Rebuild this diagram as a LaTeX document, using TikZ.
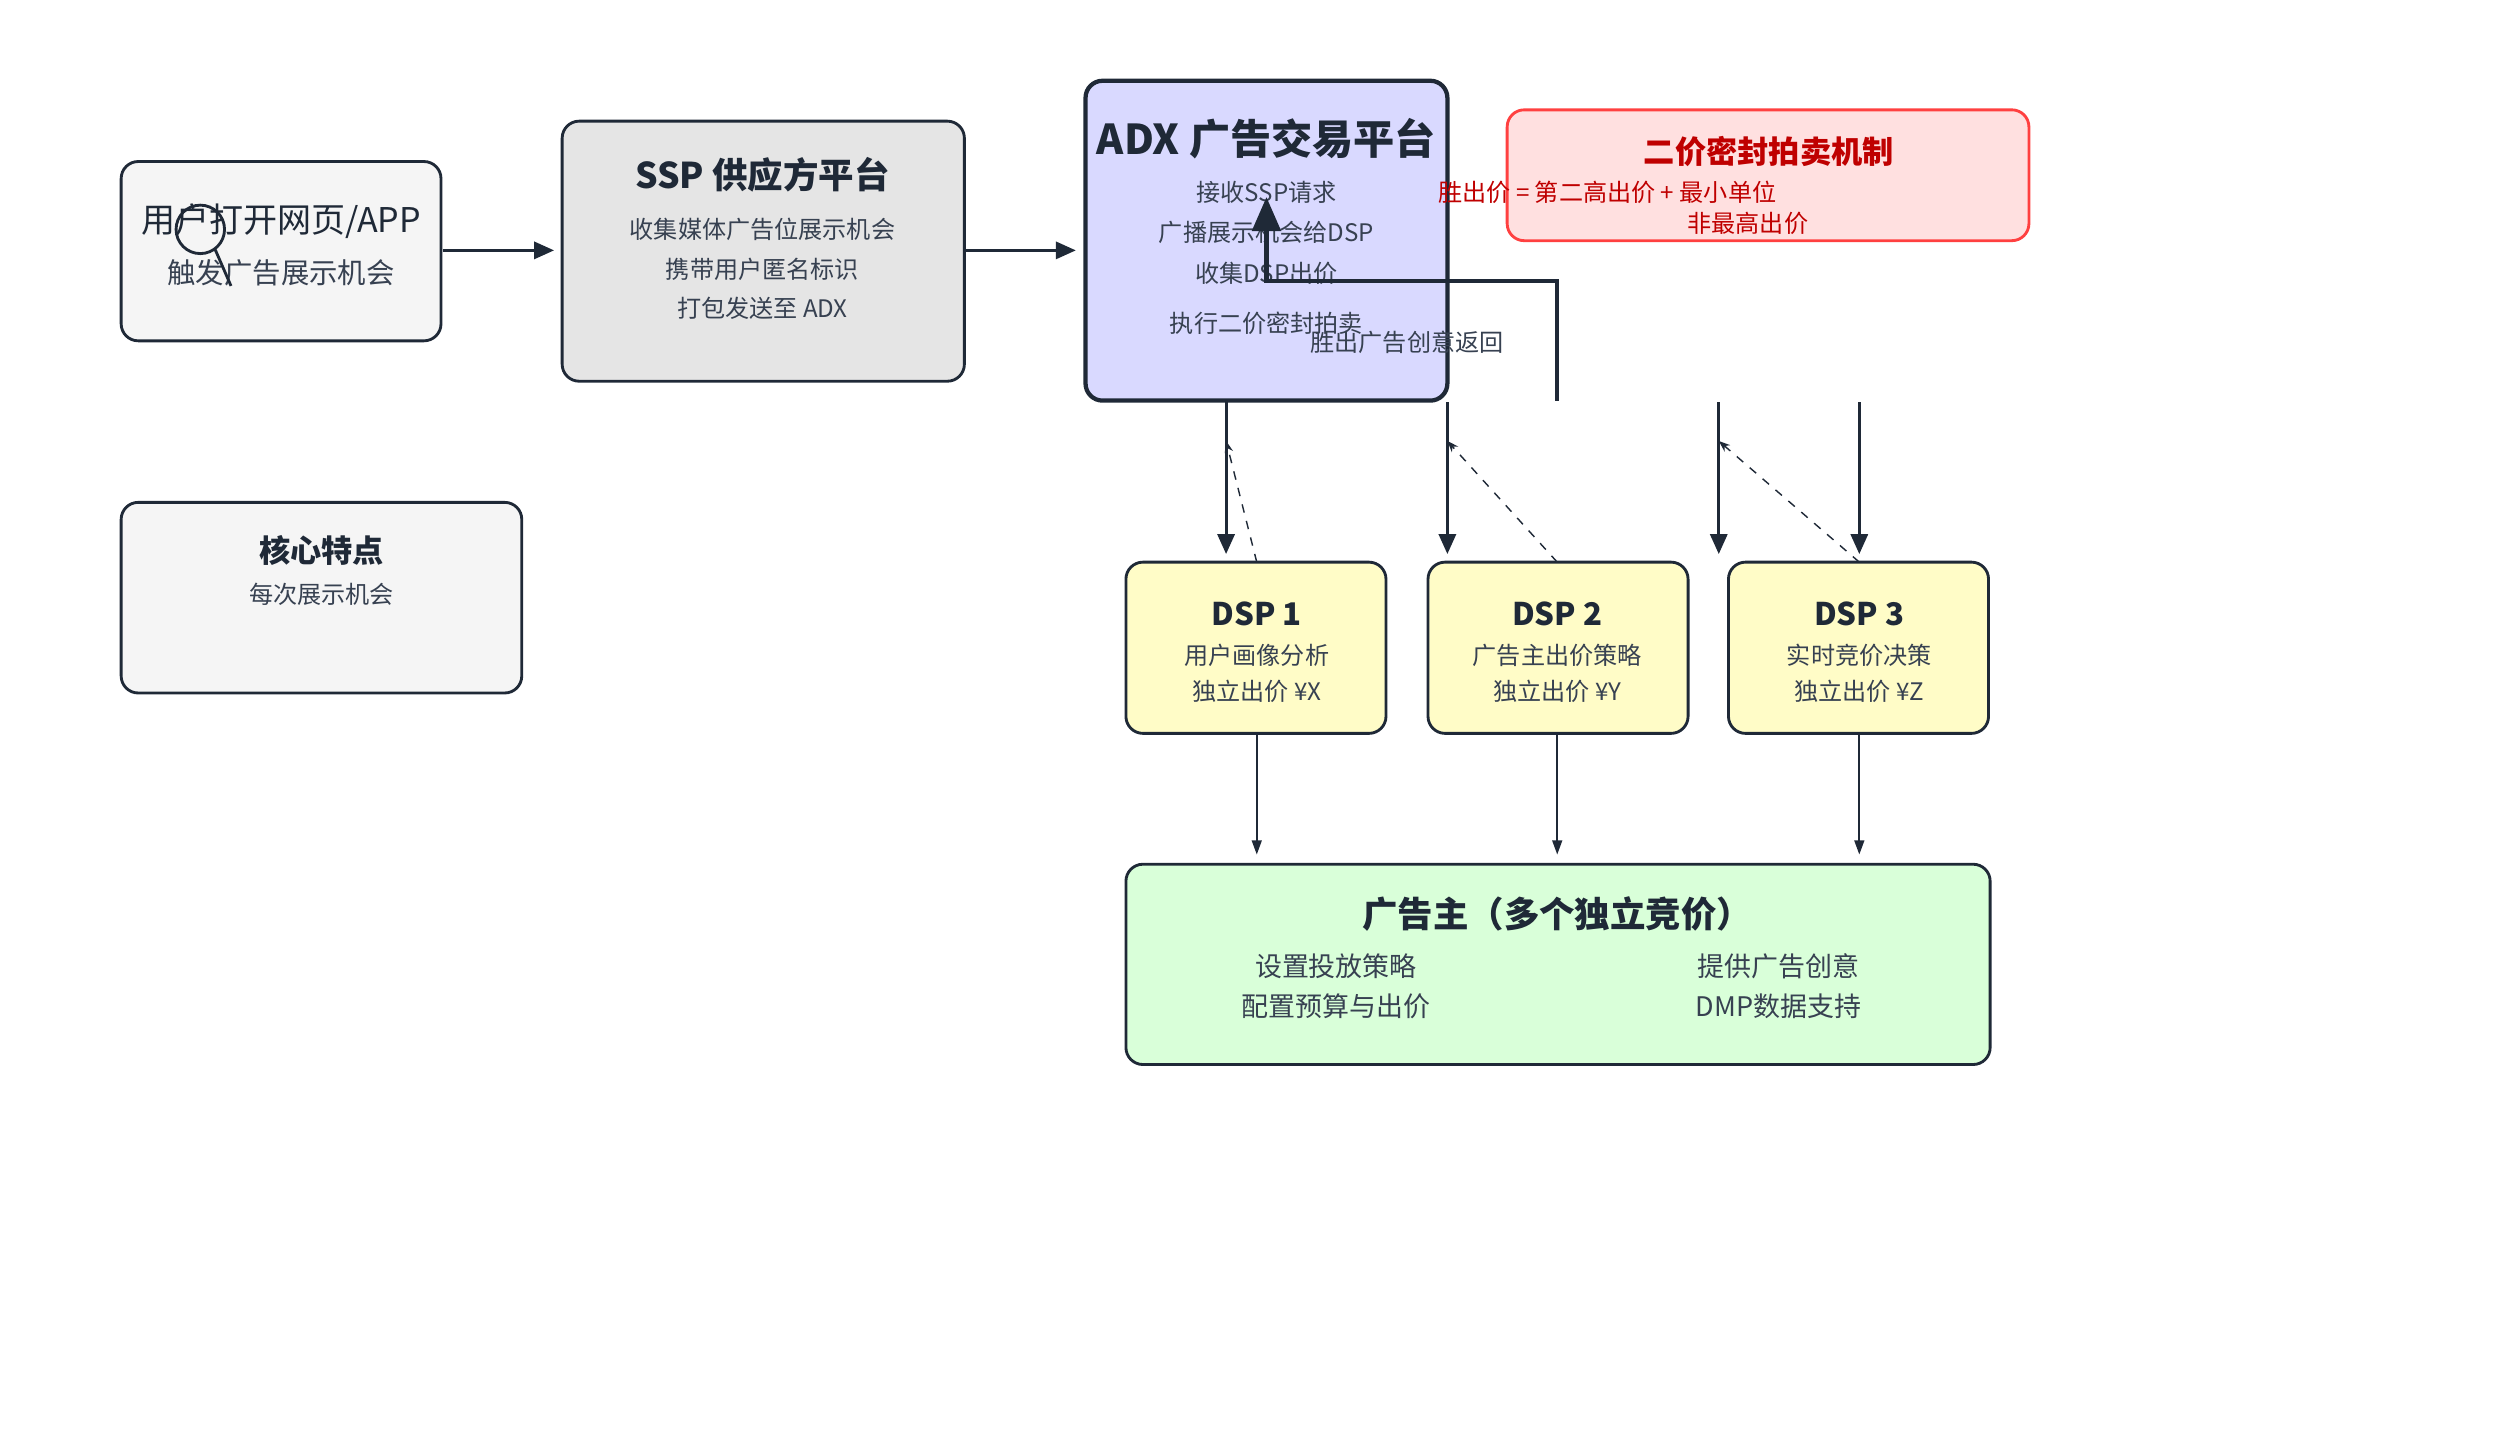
\documentclass[tikz,border=0pt]{standalone}
\usepackage{fontspec}
\setmainfont{Noto Sans CJK SC}
\usetikzlibrary{arrows.meta,positioning,calc}
\definecolor{ink}{HTML}{1F2937}
\definecolor{txt}{HTML}{374151}
\tikzset{
  box/.style={draw=ink, line width=1pt, rounded corners=6pt},
  ttl/.style={font=\bfseries\fontsize{11}{12}\selectfont, text=ink},
  ln/.style={font=\fontsize{8.5}{10}\selectfont, text=txt},
  flow/.style={-{Triangle[length=7pt,width=6pt]}, line width=1pt, draw=ink},
  thin/.style={-{Triangle[length=5pt,width=3.5pt]}, line width=0.6pt, draw=ink},
  back/.style={-{Stealth[length=4pt]}, dashed, line width=0.5pt, draw=ink}
}
\begin{document}
\begin{tikzpicture}[x=0.02cm,y=-0.02cm]
\useasboundingbox (0,0) rectangle (1560,891);
% boxes
\draw[box, fill=gray!8] (75,100) rectangle (273,211);
\draw[box, fill=gray!20] (348,75) rectangle (597,236);
\draw[box, fill=blue!15, line width=1.5pt] (672,50) rectangle (896,248);
\draw[box, fill=red!12, draw=red!75] (933,68) rectangle (1256,149);
\draw[box, fill=gray!8] (75,311) rectangle (323,429);
\foreach \n/\x in {1/697,2/884,3/1070}
  \draw[box, fill=yellow!22] (\x,348) rectangle (\x+161,454);
\draw[box, fill=green!15] (697,535) rectangle (1232,659);
% texts
\node[font=\fontsize{12}{13}\selectfont, text=ink] (user) at (174,137) {用户打开网页/APP};
\node[ln, font=\fontsize{10}{11}\selectfont] (user2) at (174,169) {触发广告展示机会};
\draw[ink, line width=1pt] (124,142) circle (15) (133,154) -- (143,177);
\node[ttl, font=\bfseries\fontsize{12.5}{13}\selectfont] (ssp) at (472,108) {SSP 供应方平台};
\node[ln] at (472,142) {收集媒体广告位展示机会};
\node[ln] at (472,167) {携带用户匿名标识};
\node[ln] at (472,191) {打包发送至 ADX};
\node[ttl, font=\bfseries\fontsize{14.5}{15}\selectfont] (adx) at (784,86) {ADX 广告交易平台};
\node[ln] at (784,119) {接收SSP请求};
\node[ln] at (784,144) {广播展示机会给DSP};
\node[ln] at (784,169) {收集DSP出价};
\node[ln] (auction) at (784,200) {执行二价密封拍卖};
\node[ttl, text=red!75!black] (rule) at (1095,94) {二价密封拍卖机制};
\node[ln, text=red!75!black] at (995,119) {胜出价 = 第二高出价 + 最小单位};
\node[ln, text=red!75!black] at (1082,138) {非最高出价};
\node[ttl] (core) at (199,341) {核心特点};
\node[ln] at (199,368) {每次展示机会};
\foreach \n/\x in {1/778,2/964,3/1151}{
  \node[ttl] (dsp\n) at (\x,380) {DSP \n};
}
\node[ln] at (778,406) {用户画像分析};
\node[ln] at (778,428) {独立出价 ¥X};
\node[ln] at (964,406) {广告主出价策略};
\node[ln] at (964,428) {独立出价 ¥Y};
\node[ln] at (1151,406) {实时竞价决策};
\node[ln] at (1151,428) {独立出价 ¥Z};
\node[ttl, font=\bfseries\fontsize{12.5}{13}\selectfont] (adv) at (964,566) {广告主（多个独立竞价）};
\node[ln, font=\fontsize{9.5}{11}\selectfont] at (827,598) {设置投放策略};
\node[ln, font=\fontsize{9.5}{11}\selectfont] at (827,623) {配置预算与出价};
\node[ln, font=\fontsize{9.5}{11}\selectfont] at (1101,598) {提供广告创意};
\node[ln, font=\fontsize{9.5}{11}\selectfont] at (1101,623) {DMP数据支持};
% connectors
\coordinate (u) at (274,155); \coordinate (s1) at (343,155);
\coordinate (s2) at (598,155); \coordinate (a1) at (666,155);
\draw[flow] (u) -- (s1);
\draw[flow] (s2) -- (a1);
\coordinate (w0) at (964,248); \coordinate (w1) at (784,122);
\draw[flow, -{Triangle[length=12pt,width=10pt]}, line width=1.5pt] (w0) |- (784,174) -- (w1);
\node[ln] (win) at (871,212) {胜出广告创意返回};
\foreach \x/\t in {759/778,896/964,1064/1151}{
  \draw[flow] (\x,249) -- (\x,343);
  \draw[back] (\t,348) -- (\x,273);
}
\draw[flow] (1151,249) -- (1151,343);
\foreach \x in {778,964,1151}
  \draw[thin] (\x,455) -- (\x,529);
\end{tikzpicture}
\end{document}
